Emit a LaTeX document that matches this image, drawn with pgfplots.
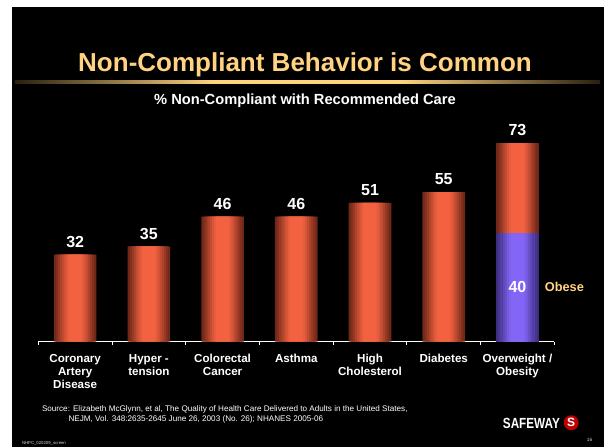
\documentclass[border=0pt]{standalone}
\usepackage{pgfplots}
\usepackage{pgfplotstable}
\pgfplotsset{compat=1.18}
\usepackage{fontspec}
\setmainfont{Liberation Sans}

\definecolor{gold}{RGB}{255,211,128}
\definecolor{barhi}{RGB}{242,98,64}
\definecolor{barlo}{RGB}{112,40,24}
\definecolor{purhi}{RGB}{132,102,246}
\definecolor{purlo}{RGB}{62,46,128}
\definecolor{lineend}{RGB}{40,32,16}
% steps of the bar gradient, outer edge (0) to centre (7)
\colorlet{r0}{barlo}\colorlet{r1}{barhi!14!barlo}\colorlet{r2}{barhi!30!barlo}
\colorlet{r3}{barhi!47!barlo}\colorlet{r4}{barhi!64!barlo}\colorlet{r5}{barhi!80!barlo}
\colorlet{r6}{barhi!92!barlo}\colorlet{r7}{barhi}
\colorlet{p0}{purlo}\colorlet{p1}{purhi!14!purlo}\colorlet{p2}{purhi!30!purlo}
\colorlet{p3}{purhi!47!purlo}\colorlet{p4}{purhi!64!purlo}\colorlet{p5}{purhi!80!purlo}
\colorlet{p6}{purhi!92!purlo}\colorlet{p7}{purhi}
% gold rule under the title: dark ends, flat bright middle
\pgfdeclarehorizontalshading{titlerule}{100bp}{color(0bp)=(lineend); color(25bp)=(lineend);
  color(42bp)=(gold); color(58bp)=(gold); color(75bp)=(lineend); color(100bp)=(lineend)}

\pgfplotstableread{
x y
0 32
1 35
2 46
3 46
4 51
5 55
6 73
}\allcare
\pgfplotstableread{
x y
6 40
}\obese

\begin{document}
\begin{tikzpicture}
% slide background
\fill[white] (0,0) rectangle (456.75pt,335.25pt);
\fill[black] (9pt,0pt) rectangle (453pt,330pt);

% title and rule
\node[anchor=base, text=gold, font=\fontsize{19.5}{22}\selectfont\bfseries]
  at (228.75pt,281.5pt) {Non-Compliant Behavior is Common};
\shade[shading=titlerule] (11.25pt,272.8pt) rectangle (450pt,274.7pt);
\node[anchor=base, text=white, font=\fontsize{11}{13}\selectfont\bfseries]
  at (228.75pt,256.5pt) {\% Non-Compliant with Recommended Care};

\begin{axis}[
  at={(28.73pt,79pt)}, anchor=south west,
  scale only axis, width=387pt, height=163.2pt,
  xmin=-0.5, xmax=6.5, ymin=0, ymax=80,
  clip=false,
  axis x line*=bottom, axis y line=none,
  x axis line style={white, line width=0.75pt},
  xtick={0,...,6}, major tick length=0pt,
  xticklabels={{Coronary\\Artery\\Disease},{Hyper -\\tension},{Colorectal\\Cancer},
    {Asthma},{High\\Cholesterol},{Diabetes},{Overweight /\\Obesity}},
  xticklabel style={align=center, text=white, yshift=-6pt,
    font=\fontsize{8.7}{9.9}\selectfont\bfseries},
  extra x ticks={-0.5,0.5,...,6.5},
  extra x tick labels={},
  extra x tick style={major tick length=2.6pt, tick align=outside,
    tick style={white, line width=0.6pt}},
  /pgf/number format/assume math mode=true,
]
% red bars, drawn as nested strips for the cylinder look
\addplot[ybar, bar width=32pt, bar shift=0pt, draw=none, fill=r0,
  nodes near coords,
  every node near coord/.append style={text=white, inner sep=0pt, yshift=5pt,
    font=\fontsize{12}{14}\selectfont\bfseries}]
  table[x=x, y=y] {\allcare};
\pgfplotsinvokeforeach{1,...,7}{
  \addplot[ybar, bar width={(32-3.2*#1)*1pt}, bar shift=0pt, draw=none, fill=r#1]
    table[x=x, y=y] {\allcare};
}
% obese part of the last bar
\addplot[ybar, bar width=32pt, bar shift=0pt, draw=none, fill=p0,
  nodes near coords,
  every node near coord/.append style={text=white, inner sep=0pt, anchor=center,
    yshift=-40.8pt, font=\fontsize{12}{14}\selectfont\bfseries}]
  table[x=x, y=y] {\obese};
\pgfplotsinvokeforeach{1,...,7}{
  \addplot[ybar, bar width={(32-3.2*#1)*1pt}, bar shift=0pt, draw=none, fill=p#1]
    table[x=x, y=y] {\obese};
}
\node[anchor=west, inner sep=0pt, text=gold, font=\fontsize{9.6}{11}\selectfont\bfseries]
  at (axis cs:6,20) [xshift=20.3pt] {Obese};
\end{axis}

% source note
\node[anchor=base west, inner sep=0pt, text=white, font=\fontsize{6.1}{7}\selectfont]
  at (31.3pt,26.5pt) {Source: Elizabeth McGlynn, et al, The Quality of Health Care Delivered to Adults in the United States,};
\node[anchor=base west, inner sep=0pt, text=white, font=\fontsize{6.1}{7}\selectfont]
  at (51.2pt,19.5pt) {NEJM, Vol. 348:2635-2645 June 26, 2003 (No. 26); NHANES 2005-06};

% footer
\node[anchor=base west, inner sep=0pt, text=white!85!black, font=\fontsize{3.2}{4}\selectfont]
  at (16.3pt,2.25pt) {NHPC\_020209\_screen};
\node[anchor=base west, inner sep=0pt, text=white!85!black, font=\fontsize{3.5}{4}\selectfont]
  at (440pt,4.5pt) {16};

% logo
\node[anchor=base west, inner sep=0pt, text=white, font=\fontsize{11}{12}\selectfont\bfseries]
  at (377pt,13.6pt) {\scalebox{0.8}[1]{SAFEWAY}};
\fill[red!75!black] (428.4pt,18.2pt) circle (5.6pt);
\node[text=white, inner sep=0pt, font=\fontsize{9}{10}\selectfont\bfseries] at (428.4pt,18.2pt) {S};

\pgfresetboundingbox
\useasboundingbox (0,0) rectangle (456.75pt,335.25pt);
\end{tikzpicture}
\end{document}
